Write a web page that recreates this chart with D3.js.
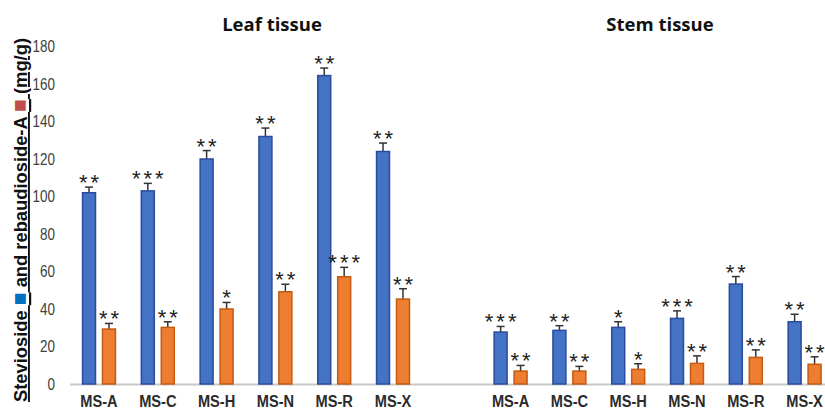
<!doctype html>
<html lang="en">
<head>
<meta charset="utf-8">
<title>Stevioside and rebaudioside-A in leaf and stem tissue</title>
<script src="https://cdn.jsdelivr.net/npm/d3@7"></script>
<style>
    body { margin: 0; background: #ffffff; }
    svg { display: block; }
</style>
</head>
<body>
<svg></svg>
<script>
    var width = 825;
    var height = 416;

    // data
    var media = ["MS-A", "MS-C", "MS-H", "MS-N", "MS-R", "MS-X"];
    var leafStevioside = [102, 103, 120, 132, 164.5, 124];
    var leafStevErr = [3, 4, 4.5, 4.5, 4, 4.5];
    var leafStevSig = ["**", "***", "**", "**", "**", "**"];
    var leafRebA = [29.3, 30.2, 40, 49.2, 57.2, 45.3];
    var leafRebErr = [3, 3, 3.5, 4, 5, 5.5];
    var leafRebSig = ["**", "**", "*", "**", "***", "**"];
    var stemStevioside = [27.7, 28.6, 30.2, 35, 53.3, 33.2];
    var stemStevErr = [3, 2.5, 3, 4, 4, 4];
    var stemStevSig = ["***", "**", "*", "***", "**", "**"];
    var stemRebA = [6.9, 6.9, 7.8, 11, 14.2, 10.5];
    var stemRebErr = [3, 2.5, 3, 4, 4, 4];
    var stemRebSig = ["**", "**", "*", "**", "**", "**"];
    var yTicks = [0, 20, 40, 60, 80, 100, 120, 140, 160, 180];

    var y0 = 384;
    var y = d3.scaleLinear().domain([0, 180]).range([y0, 46.5]);

    var svg = d3.select("svg").attr("width", width).attr("height", height);

    // y tick labels (no axis line), squeezed to look like a narrow face
    var yAxis = d3.axisLeft(y).tickValues(yTicks).tickSize(0).tickPadding(0);
    var gy = svg.append("g")
        .attr("transform", "translate(55,0)")
        .call(yAxis);
    gy.select(".domain").remove();
    gy.selectAll("text")
        .attr("x", 0)
        .attr("transform", "scale(0.84,1)")
        .attr("font-family", "'Liberation Sans', Arial, sans-serif")
        .attr("font-size", 16)
        .attr("fill", "#404040");

    // baseline
    svg.append("line")
        .attr("x1", 70).attr("x2", width)
        .attr("y1", y0 + 0.5).attr("y2", y0 + 0.5)
        .attr("stroke", "#c8c8c8")
        .attr("stroke-width", 2);

    var series = ["stev", "reb"];
    var colors = { stev: "#4472c4", reb: "#ed7d31" };
    var borders = { stev: "#2a4b9e", reb: "#c55a11" };

    function panel(title, titleX, range, stev, stevErr, stevSig, reb, rebErr, rebSig) {
        var x = d3.scaleBand().domain(media).range(range)
            .paddingInner(0.44).paddingOuter(0.22);
        var xs = d3.scaleBand().domain(series).range([0, x.bandwidth()])
            .paddingInner(0.35);

        var rows = [];
        media.forEach(function (m, i) {
            rows.push({ m: m, s: "stev", v: stev[i], e: stevErr[i], sig: stevSig[i] });
            rows.push({ m: m, s: "reb", v: reb[i], e: rebErr[i], sig: rebSig[i] });
        });

        var g = svg.append("g");

        // category labels
        var xAxis = d3.axisBottom(x).tickSize(0).tickPadding(0);
        var gx = g.append("g").attr("transform", "translate(0," + 407 + ")").call(xAxis);
        gx.select(".domain").remove();
        gx.selectAll("text")
            .attr("dy", 0)
            .attr("transform", "scale(0.86,1)")
            .attr("font-family", "'Liberation Sans', Arial, sans-serif")
            .attr("font-weight", "bold")
            .attr("font-size", 17)
            .attr("fill", "#2b2b2b");

        // error bars (upper half with cap)
        var cx = function (d) { return x(d.m) + xs(d.s) + xs.bandwidth() / 2; };
        var eb = g.selectAll(".err").data(rows).enter().append("g");
        eb.append("line")
            .attr("x1", cx).attr("x2", cx)
            .attr("y1", function (d) { return y(d.v); })
            .attr("y2", function (d) { return y(d.v + d.e); })
            .attr("stroke", "#333333").attr("stroke-width", 1.5);
        eb.append("line")
            .attr("x1", function (d) { return cx(d) - 4; })
            .attr("x2", function (d) { return cx(d) + 4; })
            .attr("y1", function (d) { return y(d.v + d.e); })
            .attr("y2", function (d) { return y(d.v + d.e); })
            .attr("stroke", "#333333").attr("stroke-width", 1.5);

        // bars
        g.selectAll(".bar").data(rows).enter().append("rect")
            .attr("x", function (d) { return x(d.m) + xs(d.s); })
            .attr("y", function (d) { return y(d.v); })
            .attr("width", xs.bandwidth())
            .attr("height", function (d) { return y0 - y(d.v); })
            .attr("fill", function (d) { return colors[d.s]; })
            .attr("stroke", function (d) { return borders[d.s]; })
            .attr("stroke-width", 1.5);

        // significance stars
        g.selectAll(".sig").data(rows).enter().append("text")
            .attr("x", function (d) { return cx(d) + 1.5; })
            .attr("y", function (d) { return y(d.v + d.e) + 3; })
            .attr("text-anchor", "middle")
            .attr("font-family", "'Liberation Sans', Arial, sans-serif")
            .attr("font-size", 22)
            .attr("letter-spacing", 3)
            .attr("fill", "#222222")
            .text(function (d) { return d.sig; });

        // panel title
        g.append("text")
            .attr("x", titleX)
            .attr("y", 31)
            .attr("text-anchor", "middle")
            .attr("font-family", "'Open Sans', 'Liberation Sans', sans-serif")
            .attr("font-weight", "bold")
            .attr("font-size", 18.5)
            .attr("fill", "#111111")
            .text(title);
    }

    panel("Leaf tissue", 272, [69.6, 422.4], leafStevioside, leafStevErr, leafStevSig, leafRebA, leafRebErr, leafRebSig);
    panel("Stem tissue", 660, [481.2, 834], stemStevioside, stemStevErr, stemStevSig, stemRebA, stemRebErr, stemRebSig);

    // y axis title with coloured squares
    var yt = svg.append("text")
        .attr("transform", "translate(27,220) rotate(-90)")
        .attr("text-anchor", "middle")
        .attr("font-family", "'Liberation Sans', Arial, sans-serif")
        .attr("font-weight", "bold")
        .attr("font-size", 19)
        .attr("fill", "#111111")
        .attr("text-decoration", "underline")
        .attr("textLength", 364)
        .attr("lengthAdjust", "spacingAndGlyphs");
    yt.append("tspan").text("Stevioside ");
    yt.append("tspan").attr("fill", "#0070c0").attr("font-size", 22).text("■");
    yt.append("tspan").text(" and rebaudioside-A ");
    yt.append("tspan").attr("fill", "#c0504d").attr("font-size", 22).text("■");
    yt.append("tspan").text(" (mg/g)");
</script>
</body>
</html>
